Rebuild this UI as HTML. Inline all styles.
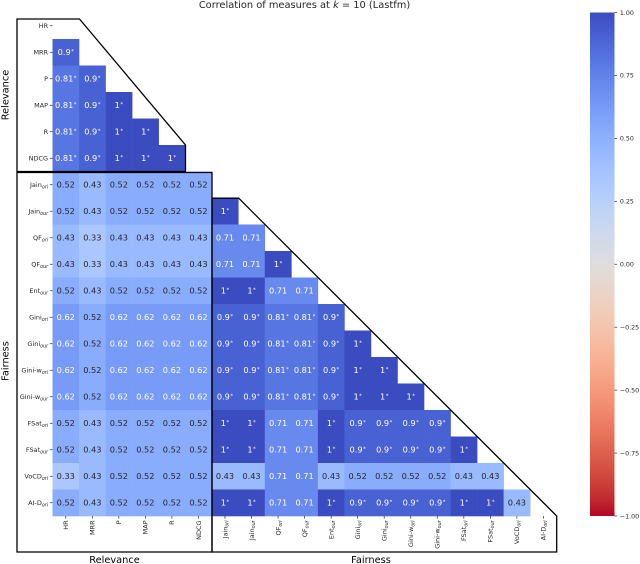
<!DOCTYPE html>
<html lang="en">
<head>
<meta charset="utf-8">
<title>Correlation of measures</title>
<style>
html,body{margin:0;padding:0;background:#fff;width:640px;height:564px;overflow:hidden}
svg{display:block;font-family:"DejaVu Sans","Liberation Sans",sans-serif}
</style>
</head>
<body>
<svg id="chart" width="640" height="564" viewBox="0 0 640 564" xmlns="http://www.w3.org/2000/svg">
  <defs>
    <linearGradient id="cbar-gradient" x1="0" y1="0" x2="0" y2="1"></linearGradient>
  </defs>
  <text x="304.5" y="8" text-anchor="middle" font-size="9.85" fill="#262626">Correlation of measures at <tspan font-style="italic">k</tspan> = 10 (Lastfm)</text>
  <g id="cells"></g>
  <g id="ticks"></g>
  <polygon points="17,19 79.5,19 185.5,145 185.5,171.5 17,171.5" fill="none" stroke="#000" stroke-width="1.3"></polygon>
  <polygon points="17,172.5 212,172.5 212,552 17,552" fill="none" stroke="#000" stroke-width="1.3"></polygon>
  <polygon points="212,198.2 238.7,198.2 556.7,516 556.7,552 212,552" fill="none" stroke="#000" stroke-width="1.3"></polygon>
  <text transform="translate(8.5,95) rotate(-90)" text-anchor="middle" font-size="9.8" fill="#000">Relevance</text>
  <text transform="translate(8.5,361) rotate(-90)" text-anchor="middle" font-size="9.8" fill="#000">Fairness</text>
  <text x="114.5" y="563" text-anchor="middle" font-size="9.8" fill="#000">Relevance</text>
  <text x="371" y="563" text-anchor="middle" font-size="9.8" fill="#000">Fairness</text>
  <g id="colorbar"></g>
</svg>
<script>
// Chart data
const labelNames = ["HR","MRR","P","MAP","R","NDCG","Jain","Jain","QF","QF","Ent","Gini","Gini","Gini-w","Gini-w","FSat","FSat","VoCD","AI-D"];
const labelSubs  = ["","","","","","","ori","our","ori","our","our","ori","our","ori","our","ori","our","ori","ori"];
const correlations = [
  [],
  [0.9],
  [0.81,0.9],
  [0.81,0.9,1],
  [0.81,0.9,1,1],
  [0.81,0.9,1,1,1],
  [0.52,0.43,0.52,0.52,0.52,0.52],
  [0.52,0.43,0.52,0.52,0.52,0.52,1],
  [0.43,0.33,0.43,0.43,0.43,0.43,0.71,0.71],
  [0.43,0.33,0.43,0.43,0.43,0.43,0.71,0.71,1],
  [0.52,0.43,0.52,0.52,0.52,0.52,1,1,0.71,0.71],
  [0.62,0.52,0.62,0.62,0.62,0.62,0.9,0.9,0.81,0.81,0.9],
  [0.62,0.52,0.62,0.62,0.62,0.62,0.9,0.9,0.81,0.81,0.9,1],
  [0.62,0.52,0.62,0.62,0.62,0.62,0.9,0.9,0.81,0.81,0.9,1,1],
  [0.62,0.52,0.62,0.62,0.62,0.62,0.9,0.9,0.81,0.81,0.9,1,1,1],
  [0.52,0.43,0.52,0.52,0.52,0.52,1,1,0.71,0.71,1,0.9,0.9,0.9,0.9],
  [0.52,0.43,0.52,0.52,0.52,0.52,1,1,0.71,0.71,1,0.9,0.9,0.9,0.9,1],
  [0.33,0.43,0.52,0.52,0.52,0.52,0.43,0.43,0.71,0.71,0.43,0.52,0.52,0.52,0.52,0.43,0.43],
  [0.52,0.43,0.52,0.52,0.52,0.52,1,1,0.71,0.71,1,0.9,0.9,0.9,0.9,1,1,0.43]
];
const significanceThreshold = 0.8;
const colorbarTicks = [1,0.75,0.5,0.25,0,-0.25,-0.5,-0.75,-1];
const coolwarmColors = [[59,76,192],[68,90,204],[77,104,215],[87,117,225],[98,130,234],[108,142,241],[119,154,247],[130,165,251],[141,176,254],[152,185,255],[163,194,255],[174,201,253],[184,208,249],[194,213,244],[204,217,238],[213,219,230],[221,221,221],[229,216,209],[236,211,197],[241,204,185],[245,196,173],[247,187,160],[247,177,148],[247,166,135],[244,154,123],[241,141,111],[236,127,99],[229,112,88],[222,96,77],[213,80,66],[203,62,56],[192,40,47],[180,4,38]];

const NS = "http://www.w3.org/2000/svg";
const plotLeft = 52.5, plotTop = 12.5, plotRight = 556.7, plotBottom = 516;
const cellW = (plotRight - plotLeft) / labelNames.length;
const cellH = (plotBottom - plotTop) / labelNames.length;
const xScale = i => plotLeft + i * cellW;
const yScale = i => plotTop + i * cellH;
const cbarLeft = 590, cbarRight = 614.5;
const cbarY = v => plotTop + (1 - v) / 2 * (plotBottom - plotTop);

function colorFor(v) {
  // value 1 maps to the blue end of the map, -1 to the red end
  const t = Math.max(0, Math.min(1, (1 - v) / 2)) * (coolwarmColors.length - 1);
  const i = Math.min(Math.floor(t), coolwarmColors.length - 2);
  const f = t - i;
  return coolwarmColors[i].map((c, k) => c + (coolwarmColors[i + 1][k] - c) * f);
}
function rgb(c) { return "rgb(" + c.map(Math.round).join(",") + ")"; }
function luminance(c) {
  const l = c.map(x => { x /= 255; return x <= 0.03928 ? x / 12.92 : Math.pow((x + 0.055) / 1.055, 2.4); });
  return 0.2126 * l[0] + 0.7152 * l[1] + 0.0722 * l[2];
}
function make(tag, attrs, parent) {
  const el = document.createElementNS(NS, tag);
  for (const k in attrs) el.setAttribute(k, attrs[k]);
  parent.appendChild(el);
  return el;
}
function appendLabel(textEl, i) {
  textEl.appendChild(document.createTextNode(labelNames[i]));
  if (labelSubs[i]) {
    const sub = make("tspan", { "font-size": "4.8", dy: "1.4", "font-style": "italic" }, textEl);
    sub.textContent = labelSubs[i];
  }
}

const cellsG = document.getElementById("cells");
correlations.forEach((row, r) => {
  row.forEach((v, c) => {
    const col = colorFor(v);
    const rect = make("rect", { x: xScale(c), y: yScale(r), width: cellW + 0.3, height: cellH + 0.3, fill: rgb(col) }, cellsG);
    
    
  });
});
correlations.forEach((row, r) => {
  row.forEach((v, c) => {
    const col = colorFor(v);
    const txt = make("text", { x: xScale(c) + cellW / 2, y: yScale(r) + cellH / 2 + 2.9, "text-anchor": "middle", "font-size": "8.2", fill: luminance(col) < 0.408 ? "#fff" : "#262626" }, cellsG);
    
    
    txt.appendChild(document.createTextNode(String(v)));
    if (v >= significanceThreshold) {
      const star = make("tspan", { "font-size": "5.4", dy: "-2.4", dx: "0.5" }, txt);
      star.textContent = "*";
    }
  });
});

const ticksG = document.getElementById("ticks");
labelNames.forEach((name, i) => {
  const cy = yScale(i) + cellH / 2;
  const cx = xScale(i) + cellW / 2;
  const yTick = make("line", { x1: plotLeft - 2.6, x2: plotLeft, y1: cy, y2: cy, stroke: "#262626", "stroke-width": "0.7" }, ticksG);
  
  
  const xTick = make("line", { x1: cx, x2: cx, y1: plotBottom, y2: plotBottom + 2.6, stroke: "#262626", "stroke-width": "0.7" }, ticksG);
  
  
  const yLab = make("text", { x: plotLeft - 4.4, y: cy + 2.3, "text-anchor": "end", "font-size": "6.5", fill: "#262626" }, ticksG);
  
  
  appendLabel(yLab, i);
  const xLab = make("text", { transform: "translate(" + (cx + 2.3) + "," + (plotBottom + 4.4) + ") rotate(-90)", "text-anchor": "end", "font-size": "6.5", fill: "#262626" }, ticksG);
  
  
  appendLabel(xLab, i);
});

const grad = document.getElementById("cbar-gradient");
coolwarmColors.forEach((c, i) => {
  make("stop", { offset: i / (coolwarmColors.length - 1), "stop-color": rgb(c) }, grad);
});
const cbarG = document.getElementById("colorbar");
const cbarRect = make("rect", { x: cbarLeft, y: plotTop, width: cbarRight - cbarLeft, height: plotBottom - plotTop, fill: "url(#cbar-gradient)" }, cbarG);


colorbarTicks.forEach(v => {
  const y = cbarY(v);
  const t = make("line", { x1: cbarRight, x2: cbarRight + 2.6, y1: y, y2: y, stroke: "#262626", "stroke-width": "0.7" }, cbarG);
  
  
  const lab = make("text", { x: cbarRight + 5.4, y: y + 2.3, "font-size": "6.3", fill: "#262626" }, cbarG);
  
  
  lab.textContent = (v < 0 ? "\u2212" : "") + Math.abs(v).toFixed(2);
});
</script>
</body>
</html>
